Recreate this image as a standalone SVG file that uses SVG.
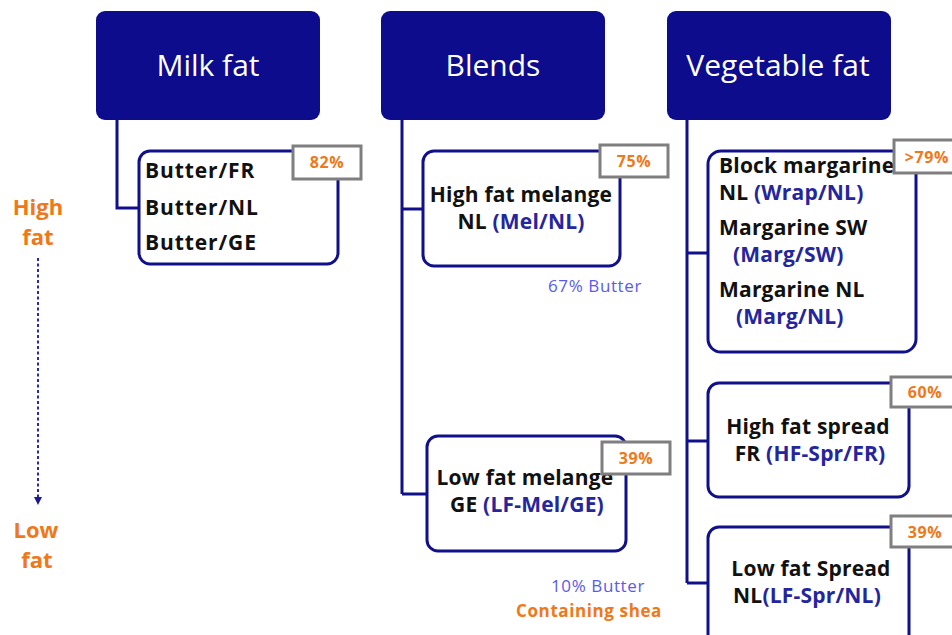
<svg xmlns="http://www.w3.org/2000/svg" width="952" height="635" viewBox="0 0 952 635">
<defs>
<style>
.hdr{fill:#0c0c8c;}
.hdrt{fill:#ffffff;font-family:"Open Sans","DejaVu Sans",sans-serif;font-size:30px;text-anchor:middle;}
.box{fill:#ffffff;stroke:#10108a;stroke-width:3;}
.lab{fill:#ffffff;stroke:#7f7f7f;stroke-width:3;}
.labt{fill:#f07818;font-family:"Open Sans","DejaVu Sans",sans-serif;font-size:16px;font-weight:bold;text-anchor:middle;letter-spacing:0.6px;}
.t{fill:#111111;font-family:"Open Sans","DejaVu Sans",sans-serif;font-size:21px;font-weight:bold;letter-spacing:0.2px;}
.c{fill:#25259e;}
.note{fill:#5a5aee;font-family:"Open Sans","DejaVu Sans",sans-serif;font-size:17px;letter-spacing:0.6px;}
.or{fill:#f07818;font-family:"Open Sans","DejaVu Sans",sans-serif;font-size:22px;font-weight:bold;text-anchor:middle;}
.con{fill:none;stroke:#10108a;stroke-width:3;}
</style>
<marker id="ah" viewBox="0 0 10 10" refX="10" refY="5" markerWidth="4" markerHeight="4" orient="auto" markerUnits="strokeWidth">
<path d="M0,0 L10,5 L0,10 Z" fill="#1a1a8c"/>
</marker>
</defs>
<rect width="952" height="635" fill="#ffffff"/>

<g id="connectors">
<polyline class="con" points="117,120 117,208 140,208"/>
<line class="con" x1="402" y1="120" x2="402" y2="494"/>
<line class="con" x1="402" y1="209" x2="424" y2="209"/>
<line class="con" x1="402" y1="494" x2="428" y2="494"/>
<line class="con" x1="687" y1="120" x2="687" y2="583"/>
<line class="con" x1="687" y1="253" x2="709" y2="253"/>
<line class="con" x1="687" y1="441" x2="709" y2="441"/>
<line class="con" x1="687" y1="583" x2="709" y2="583"/>
</g>

<g id="scale">
<text class="or" x="38" y="215">High</text>
<text class="or" x="38" y="245">fat</text>
<line x1="38" y1="258" x2="38" y2="505" stroke="#2a2aa8" stroke-width="2" stroke-dasharray="3,2.5" marker-end="url(#ah)"/>
<text class="or" x="36" y="538">Low</text>
<text class="or" x="37" y="568">fat</text>
</g>

<g id="milk-fat">
<rect class="hdr" x="96" y="11" width="224" height="109" rx="9"/>
<text class="hdrt" x="208" y="76">Milk fat</text>
</g>
<g id="blends">
<rect class="hdr" x="381" y="11" width="224" height="109" rx="9"/>
<text class="hdrt" x="493" y="76">Blends</text>
</g>
<g id="vegetable-fat">
<rect class="hdr" x="667" y="11" width="224" height="109" rx="9"/>
<text class="hdrt" x="778" y="76">Vegetable fat</text>
</g>

<g id="butter">
<rect class="box" x="139" y="151" width="199" height="113" rx="11"/>
<text class="t" x="145" y="178" style="letter-spacing:0.9px">Butter/FR</text>
<text class="t" x="145" y="215" style="letter-spacing:0.9px">Butter/NL</text>
<text class="t" x="145" y="250" style="letter-spacing:0.9px">Butter/GE</text>
<rect class="lab" x="293" y="146" width="68" height="33"/>
<text class="labt" x="327" y="168">82%</text>
</g>

<g id="hf-melange">
<rect class="box" x="423" y="151" width="197" height="115" rx="11"/>
<text class="t" x="521" y="202" text-anchor="middle">High fat melange</text>
<text class="t" x="521" y="229" text-anchor="middle">NL <tspan class="c">(Mel/NL)</tspan></text>
<rect class="lab" x="600" y="145" width="68" height="32"/>
<text class="labt" x="634" y="167">75%</text>
<text class="note" x="595" y="292" text-anchor="middle">67% Butter</text>
</g>

<g id="lf-melange">
<rect class="box" x="427" y="436" width="199" height="115" rx="11"/>
<text class="t" x="525" y="485" text-anchor="middle">Low fat melange</text>
<text class="t" x="527" y="512" text-anchor="middle">GE  <tspan class="c">(LF-Mel/GE)</tspan></text>
<rect class="lab" x="602" y="442" width="68" height="32"/>
<text class="labt" x="636" y="464">39%</text>
<text class="note" x="598" y="592" text-anchor="middle">10% Butter</text>
<text class="or" x="589" y="617" style="font-size:17px;letter-spacing:0.6px">Containing  shea</text>
</g>

<g id="margarine">
<rect class="box" x="708" y="151" width="208" height="201" rx="13"/>
<text class="t" x="719" y="173">Block margarine</text>
<text class="t" x="719" y="200">NL <tspan class="c">(Wrap/NL)</tspan></text>
<text class="t" x="719" y="235">Margarine SW</text>
<text class="t c" x="733" y="262">(Marg/SW)</text>
<text class="t" x="719" y="297">Margarine NL</text>
<text class="t c" x="736" y="324">(Marg/NL)</text>
<rect class="lab" x="894" y="140" width="70" height="33"/>
<text class="labt" x="927" y="163">&gt;79%</text>
</g>

<g id="hf-spread">
<rect class="box" x="708" y="383" width="201" height="114" rx="11"/>
<text class="t" x="808" y="434" text-anchor="middle">High fat spread</text>
<text class="t" x="810" y="461" text-anchor="middle">FR  <tspan class="c">(HF-Spr/FR)</tspan></text>
<rect class="lab" x="891" y="377" width="70" height="30"/>
<text class="labt" x="925" y="398">60%</text>
</g>

<g id="lf-spread">
<rect class="box" x="708" y="527" width="201" height="130" rx="11"/>
<text class="t" x="811" y="576" text-anchor="middle">Low fat Spread</text>
<text class="t" x="807" y="603" text-anchor="middle">NL<tspan class="c">(LF-Spr/NL)</tspan></text>
<rect class="lab" x="891" y="516" width="70" height="31"/>
<text class="labt" x="925" y="538">39%</text>
</g>
</svg>
